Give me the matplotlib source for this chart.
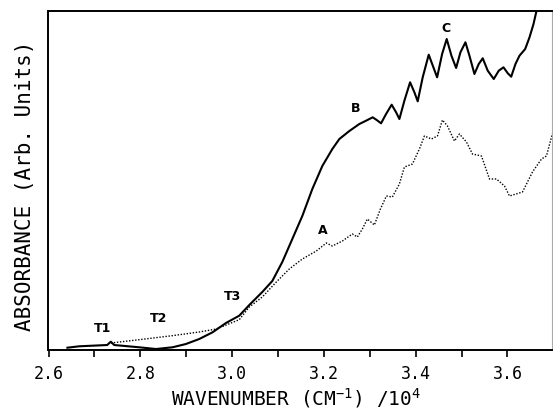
import matplotlib
matplotlib.use("Agg")
import matplotlib.pyplot as plt
import numpy as np

plt.rcParams['font.family'] = ['DejaVu Sans Mono']
plt.rcParams['mathtext.default'] = 'regular'

# Solid curve (wavenumber /1e4, absorbance arb. units)
solid_x = [2.6412, 2.6667, 2.7278, 2.7358, 2.7430, 2.7976, 2.8340, 2.8702, 2.8994, 2.9284, 2.9574, 2.9866,
           3.0156, 3.0396, 3.0658, 3.0876, 3.1094, 3.1312, 3.1530, 3.1748, 3.1966, 3.2184, 3.2337, 3.2555,
           3.2773, 3.2919, 3.3063, 3.3150, 3.3246, 3.3355, 3.3477, 3.3573, 3.3645, 3.3754, 3.3878, 3.3972,
           3.4044, 3.4153, 3.4284, 3.4386, 3.4467, 3.4576, 3.4676, 3.4779, 3.4881, 3.4975, 3.5084, 3.5171,
           3.5280, 3.5374, 3.5461, 3.5570, 3.5701, 3.5810, 3.5913, 3.6007, 3.6081, 3.6174, 3.6262, 3.6386,
           3.6480, 3.6567, 3.6632, 3.6698]
solid_y = [0.0068, 0.0109, 0.0147, 0.0245, 0.0147, 0.0080, 0.0029, 0.0080, 0.0177, 0.0324, 0.0522, 0.0796,
           0.1012, 0.1357, 0.1711, 0.2035, 0.2596, 0.3274, 0.3953, 0.4749, 0.5428, 0.5929, 0.6224, 0.6460,
           0.6667, 0.6764, 0.6864, 0.6785, 0.6687, 0.6962, 0.7236, 0.7012, 0.6814, 0.7354, 0.7897, 0.7602,
           0.7336, 0.8044, 0.8711, 0.8339, 0.8044, 0.8732, 0.9174, 0.8682, 0.8319, 0.8782, 0.9077, 0.8682,
           0.8142, 0.8437, 0.8605, 0.8239, 0.7994, 0.8239, 0.8339, 0.8162, 0.8062, 0.8437, 0.8682, 0.8879,
           0.9224, 0.9617, 1.0000, 1.0354]

# Dotted curve
dot_x = [2.7358, 2.7976, 2.8695, 2.9284, 2.9655, 3.0156, 3.0374, 3.0658, 3.0963, 3.1246, 3.1530, 3.1835,
         3.2053, 3.2184, 3.2402, 3.2620, 3.2729, 3.2838, 3.2947, 3.3100, 3.3231, 3.3362, 3.3492, 3.3645,
         3.3754, 3.3929, 3.4081, 3.4190, 3.4343, 3.4474, 3.4583, 3.4692, 3.4844, 3.4953, 3.5106, 3.5237,
         3.5433, 3.5608, 3.5760, 3.5935, 3.6044, 3.6327, 3.6545, 3.6741, 3.6850, 3.6959, 3.7046]
dot_y = [0.0206, 0.0304, 0.0422, 0.0531, 0.0619, 0.0894, 0.1268, 0.1563, 0.2006, 0.2389, 0.2684, 0.2920,
         0.3156, 0.3068, 0.3215, 0.3422, 0.3333, 0.3569, 0.3864, 0.3687, 0.4159, 0.4543, 0.4513, 0.4897,
         0.5398, 0.5487, 0.5929, 0.6313, 0.6224, 0.6313, 0.6785, 0.6608, 0.6165, 0.6372, 0.6136, 0.5782,
         0.5723, 0.5044, 0.5044, 0.4838, 0.4543, 0.4661, 0.5251, 0.5634, 0.5723, 0.6283, 0.6667]

labels = ['T1', 'T2', 'T3', 'A', 'B', 'C']
label_x = [2.7169, 2.8390, 3.0004, 3.1966, 3.2686, 3.4670]
label_y = [0.0649, 0.0944, 0.1593, 0.3569, 0.7139, 0.9499]

xticks = [2.6, 2.8, 3.0, 3.2, 3.4, 3.6]
xtick_labels = ['2.6', '2.8', '3.0', '3.2', '3.4', '3.6']
minor_ticks = [2.7, 2.9, 3.1, 3.3, 3.5]

fig = plt.figure(figsize=(5.53, 4.10), dpi=100)
ax = fig.add_axes([48.5/553, 59/410, 503.5/553, 339/410])

ax.plot(solid_x, solid_y, color='black', lw=1.5, solid_joinstyle='round')
ax.plot(dot_x, dot_y, color='black', lw=1.0, linestyle=(0, (1, 1.2)))

for t, x, y in zip(labels, label_x, label_y):
    ax.text(x, y, t, fontsize=9, fontweight='bold', family='DejaVu Sans', ha='center', va='center')

ax.set_xlim(2.6, 3.697)
ax.set_ylim(0, 1)
ax.set_xticks(xticks)
ax.set_xticklabels(xtick_labels, fontsize=12)
ax.set_xticks(minor_ticks, minor=True)
ax.tick_params(axis='x', which='both', direction='out', length=5, width=1.2, pad=5)
ax.set_yticks([])
for s in ['left', 'bottom', 'top']:
    ax.spines[s].set_linewidth(1.4)
ax.spines['right'].set_linewidth(0.8)
ax.spines['right'].set_color('#aaaaaa')

fig.text(296/553, 1 - 398/410, r'WAVENUMBER (CM$^{-1}$) /10$^{4}$', fontsize=14,
         ha='center', va='center')
fig.text(25/553, 1 - 186/410, 'ABSORBANCE (Arb. Units)', fontsize=15, rotation=90,
         ha='center', va='center')

fig.savefig('out.png', dpi=100)
